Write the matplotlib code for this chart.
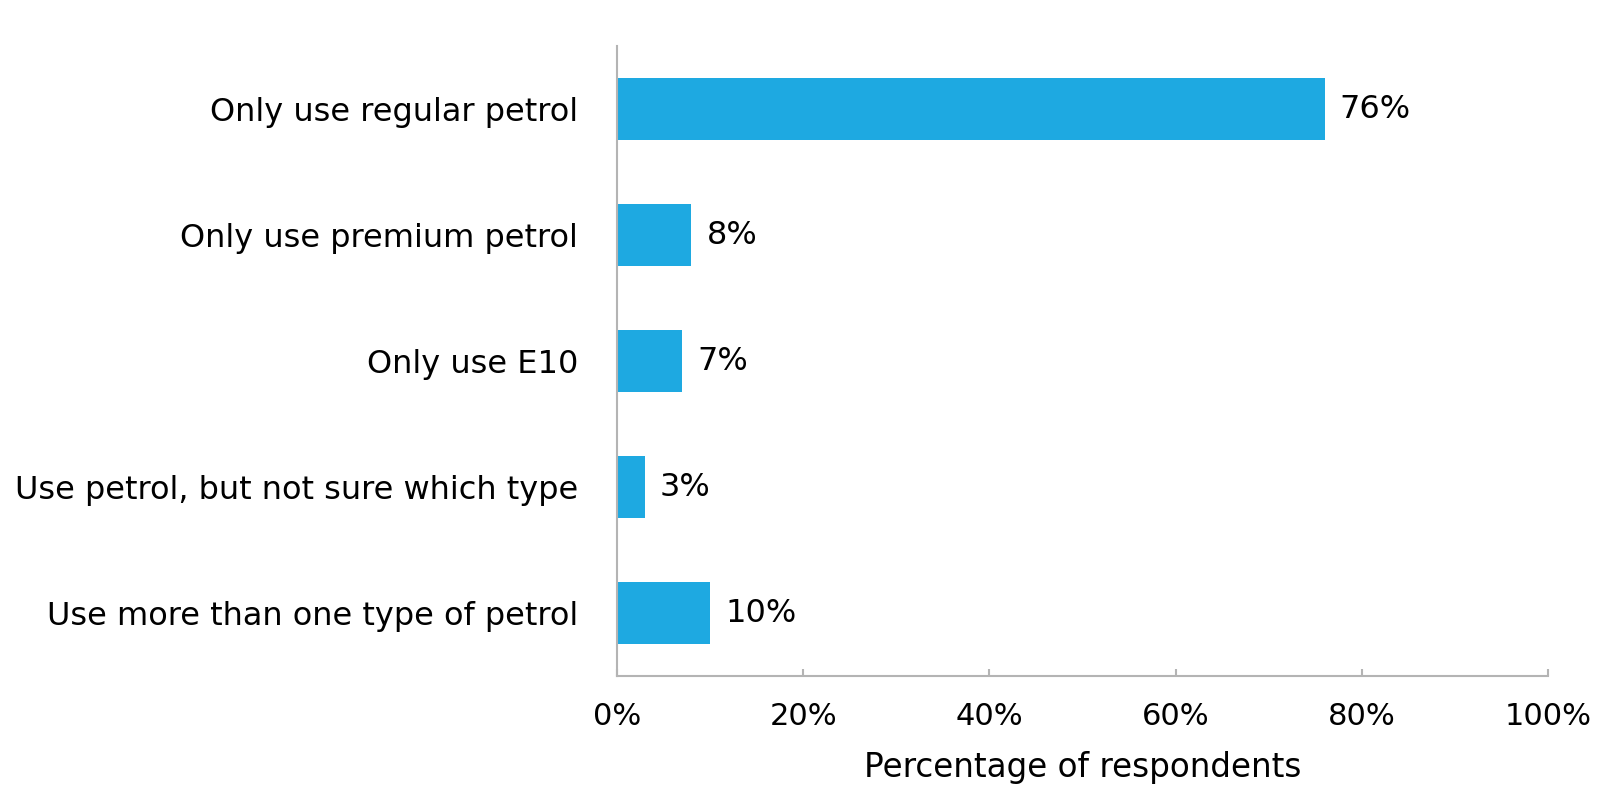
import matplotlib.pyplot as plt

categories = [
    "Only use regular petrol",
    "Only use premium petrol",
    "Only use E10",
    "Use petrol, but not sure which type",
    "Use more than one type of petrol",
]
shares = [76, 8, 7, 3, 10]
x_ticks = [0, 20, 40, 60, 80, 100]

plt.rcParams['font.family'] = ['DejaVu Sans']

fig = plt.figure(figsize=(16.19, 7.88), dpi=100)
ax = fig.add_axes([617 / 1619, 1 - 676 / 788, (1548 - 617) / 1619, (676 - 46) / 788])

bar_color = '#1ea9e1'
pos = list(range(len(categories)))
ax.barh(pos, shares, height=0.49, color=bar_color)

# value labels just right of each bar
for y, v in zip(pos, shares):
    ax.text(v + 1.6, y, f"{v}%", va='center', ha='left', fontsize=23, color='black')

ax.set_ylim(len(categories) - 0.5, -0.5)
ax.set_xlim(0, 100)

ax.set_yticks(pos)
ax.set_yticklabels(categories, fontsize=23)
ax.set_xticks(x_ticks)
ax.set_xticklabels([f"{t}%" for t in x_ticks], fontsize=22)
ax.set_xlabel("Percentage of respondents", fontsize=23.5, labelpad=14)

for side in ['top', 'right']:
    ax.spines[side].set_visible(False)
for side in ['left', 'bottom']:
    ax.spines[side].set_color('#b4b4b4')
    ax.spines[side].set_linewidth(1.5)

ax.tick_params(axis='y', length=0, pad=28)
ax.tick_params(axis='x', direction='in', length=5, width=1.5, color='#b4b4b4', pad=19)

fig.savefig('out.png', dpi=100)
